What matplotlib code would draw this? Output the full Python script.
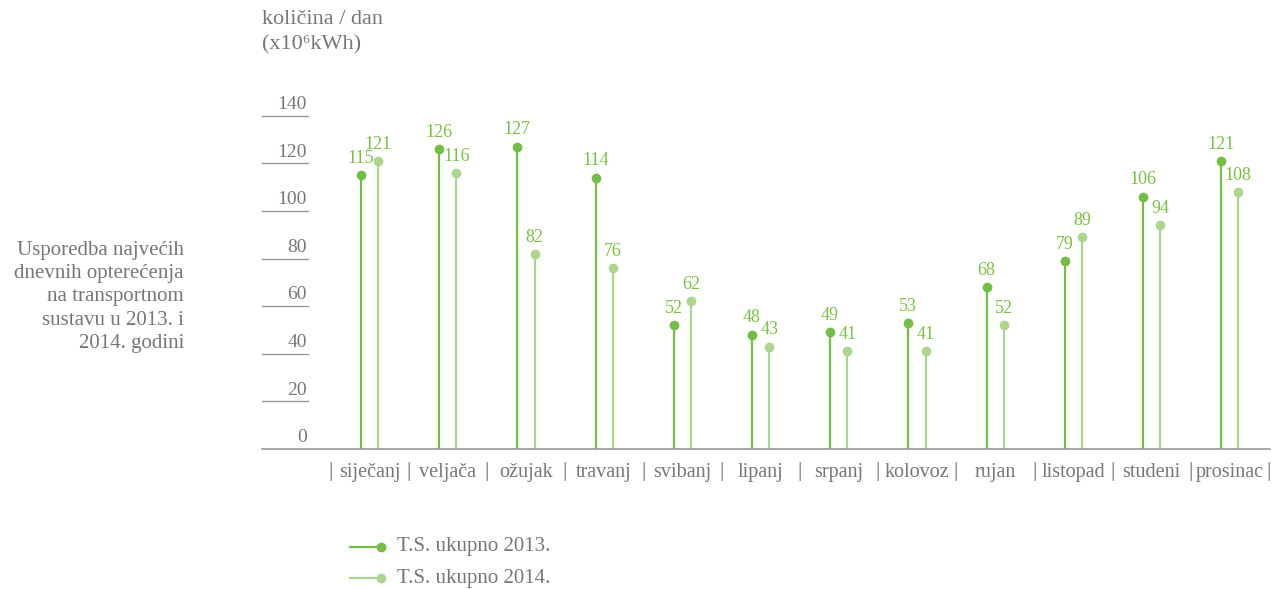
#! /usr/bin/env python3

'''lollipop chart: peak daily load on the transport system, 2013 vs 2014'''

import matplotlib
matplotlib.use('Agg')
import matplotlib.pyplot as plt
from matplotlib.lines import Line2D
import numpy as np

# data
months = ['siječanj', 'veljača', 'ožujak', 'travanj', 'svibanj', 'lipanj',
          'srpanj', 'kolovoz', 'rujan', 'listopad', 'studeni', 'prosinac']
ts2013 = [115, 126, 127, 114, 52, 48, 49, 53, 68, 79, 106, 121]
ts2014 = [121, 116, 82, 76, 62, 43, 41, 41, 52, 89, 94, 108]
yticks = [0, 20, 40, 60, 80, 100, 120, 140]
labels = ['T.S. ukupno 2013.', 'T.S. ukupno 2014.']

# styling
dark = '#72bf44'
light = '#acd68e'
txt = '#7ac143'
grey = '#777777'
axgrey = '#999999'
plt.rcParams['font.family'] = ['Liberation Serif', 'DejaVu Serif']

W, H = 1284, 589
fig = plt.figure(figsize=(W/100, H/100), dpi=100)
ax = fig.add_axes([262/W, 140/H, 1008/W, 345/H])
ax.set_xlim(-1.375, 11.515)
ax.set_ylim(0, 145)
ax.axis('off')

x = np.arange(len(months))
off = 0.11
for xs, vals, col in [(x - off, ts2013, dark), (x + off, ts2014, light)]:
    ax.vlines(xs, 0, vals, color=col, lw=1.6)
    ax.plot(xs, vals, 'o', color=col, ms=6)
    for xi, v in zip(xs, vals):
        ax.annotate(str(v), (xi, v), xytext=(0, 6), textcoords='offset points',
                    ha='center', va='bottom', color=txt, fontsize=13)

# baseline
ax.plot([-1.375, 11.515], [0, 0], color=axgrey, lw=1.2, clip_on=False)

# y ticks: short lines with the label above
xmin = -1.375
for t in yticks[1:]:
    ax.plot([xmin, xmin + 0.59], [t, t], color=axgrey, lw=1.0, clip_on=False)
for t in yticks:
    ax.annotate(str(t), (xmin + 0.59, t), xytext=(-1, 2), textcoords='offset points',
                ha='right', va='bottom', color=grey, fontsize=14)

# month labels with separators
for i, m in enumerate(months):
    ax.annotate(m, (i, 0), xytext=(0, -17), textcoords='offset points',
                ha='center', va='center', color=grey, fontsize=14.5)
for s in np.arange(-0.5, len(months), 1.0):
    ax.annotate('|', (s, 0), xytext=(0, -16), textcoords='offset points',
                ha='center', va='center', color=grey, fontsize=16)

# titles
fig.text(262/W, 1 - 19/H, 'količina / dan', ha='left', va='center', color=grey, fontsize=16)
fig.text(262/W, 1 - 45/H, '(x10⁶kWh)', ha='left', va='center', color=grey, fontsize=16)
fig.text(184/W, 1 - 297/H,
         'Usporedba najvećih\ndnevnih opterećenja\nna transportnom\nsustavu u 2013. i\n2014. godini',
         ha='right', va='center', color=grey, fontsize=15, linespacing=1.3)

# legend drawn by hand
for j, (lab, col) in enumerate(zip(labels, [dark, light])):
    yy = 1 - (547 + 31*j)/H
    fig.add_artist(Line2D([350/W, 381/W], [yy, yy], color=col, lw=1.6))
    fig.add_artist(Line2D([381/W], [yy], marker='o', color=col, ms=6))
    fig.text(397/W, yy, lab, ha='left', va='center', color=grey, fontsize=15)

fig.savefig('out.png', dpi=100)
